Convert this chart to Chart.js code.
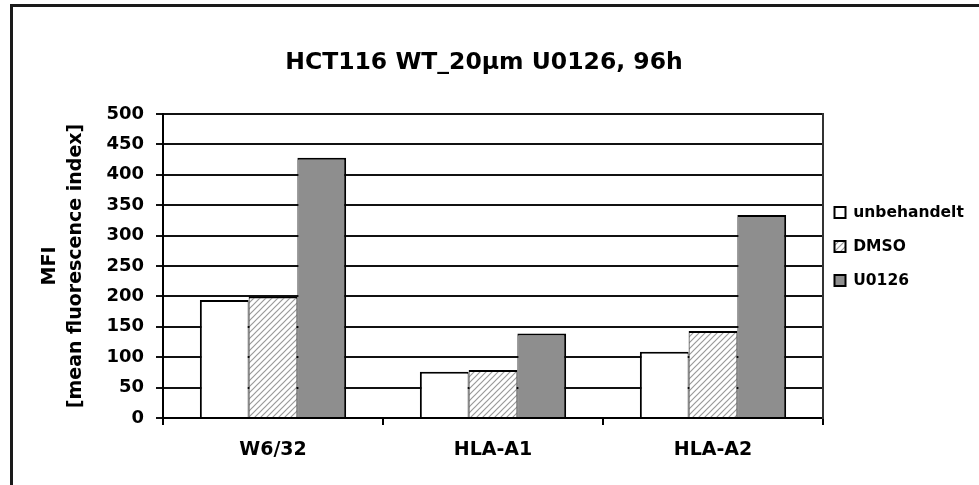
<!DOCTYPE html>
<html>
<head>
<meta charset="utf-8">
<script src="https://cdn.jsdelivr.net/npm/chart.js@4/dist/chart.umd.min.js"></script>
<style>
  html, body { margin: 0; padding: 0; background: #fff; overflow: hidden; }
  #wrap { position: relative; width: 979px; height: 485px; }
  #frame { position: absolute; left: 10px; top: 4px; width: 1200px; height: 800px;
           border-top: 3px solid #1a1a1a; border-left: 3px solid #1a1a1a; pointer-events: none; }
  canvas { position: absolute; left: 0; top: 0; }
</style>
</head>
<body>
<div id="wrap">
  <canvas id="c" width="979" height="485"></canvas>
  <div id="frame"></div>
</div>
<script>
// ---- data ----
const categories = ['W6/32', 'HLA-A1', 'HLA-A2'];
const seriesNames = ['unbehandelt', 'DMSO', 'U0126'];
const unbehandelt = [194, 76, 109];
const dmso = [200, 79, 143];
const u0126 = [428, 139, 334];
const yTickValues = [0, 50, 100, 150, 200, 250, 300, 350, 400, 450, 500];
const titleText = 'HCT116 WT_20\u00b5m U0126, 96h';
const yTitleLines = ['MFI', '[mean fluorescence index]'];

// ---- hatch pattern for DMSO ----
function makeHatch() {
  const s = 6;
  const pc = document.createElement('canvas');
  pc.width = s; pc.height = s;
  const g = pc.getContext('2d');
  g.fillStyle = '#ffffff';
  g.fillRect(0, 0, s, s);
  g.strokeStyle = '#9a9a9a';
  g.lineWidth = 1.2;
  g.beginPath();
  g.moveTo(-1, s + 1); g.lineTo(s + 1, -1);
  g.moveTo(-1, 1); g.lineTo(1, -1);
  g.moveTo(s - 1, s + 1); g.lineTo(s + 1, s - 1);
  g.stroke();
  return g.createPattern(pc, 'repeat');
}
const hatch = makeHatch();

Chart.defaults.font.family = "'DejaVu Sans', sans-serif";
Chart.defaults.color = '#000';

const legendShift = {
  id: 'legendShift',
  afterLayout(chart) {
    const l = chart.legend;
    if (l) {
      l.left -= 7;
      l.right = chart.width;
      l.width = l.right - l.left;
      l.top += 4;
      l.bottom += 4;
    }
  }
};

new Chart(document.getElementById('c'), {
  type: 'bar',
  data: {
    labels: categories,
    datasets: [
      { label: seriesNames[0], data: unbehandelt, backgroundColor: '#ffffff', borderColor: '#000',
        borderWidth: { left: 2, right: 1, top: 2, bottom: 0 }, borderSkipped: 'bottom' },
      { label: seriesNames[1], data: dmso, backgroundColor: hatch, borderColor: '#000',
        borderWidth: { left: 1, right: 1, top: 2, bottom: 0 }, borderSkipped: 'bottom' },
      { label: seriesNames[2], data: u0126, backgroundColor: '#8e8e8e', borderColor: '#000',
        borderWidth: { left: 1, right: 2, top: 2, bottom: 0 }, borderSkipped: 'bottom' }
    ]
  },
  options: {
    responsive: false,
    animation: false,
    devicePixelRatio: 1,
    layout: { padding: { left: 0, right: 11, top: 0, bottom: 0 } },
    datasets: { bar: { barPercentage: 1.0, categoryPercentage: 0.665 } },
    plugins: {
      tooltip: { enabled: false },
      title: {
        display: true,
        text: titleText,
        font: { size: 23.5, weight: 'bold', lineHeight: 1.2 },
        color: '#000',
        padding: { top: 49, bottom: 36.8 }
      },
      legend: {
        display: true,
        position: 'right',
        align: 'center',
        maxWidth: 145,
        labels: {
          boxWidth: 11,
          boxHeight: 11,
          padding: 18.5,
          color: '#000',
          font: { size: 15.5, weight: 'bold' },
          generateLabels(chart) {
            const items = Chart.defaults.plugins.legend.labels.generateLabels(chart);
            items.forEach(it => { it.lineWidth = 2; });
            return items;
          }
        }
      }
    },
    scales: {
      x: {
        afterFit(s) { s.height = 67; },
        grid: { offset: true, drawOnChartArea: false, drawTicks: true, tickLength: 7, color: '#000', lineWidth: 2 },
        border: { display: true, color: '#000', width: 2 },
        ticks: { color: '#000', padding: 14, font: { size: 19, weight: 'bold' } }
      },
      y: {
        min: 0, max: 500,
        afterFit(s) { s.width = 163; },
        afterBuildTicks(s) { s.ticks = yTickValues.map(v => ({ value: v })); },
        grid: { color: '#111', lineWidth: 2, tickLength: 7, drawTicks: true },
        border: { display: true, color: '#000', width: 2 },
        ticks: { color: '#000', padding: 12, font: { size: 18, weight: 'bold' } },
        title: {
          display: true,
          text: yTitleLines,
          color: '#000',
          font: { size: 19, weight: 'bold', lineHeight: 1.37 },
          padding: { top: 37, bottom: 0 }
        }
      },
      y2: {
        position: 'right',
        min: 0, max: 500,
        afterFit(s) { s.width = 0; },
        grid: { drawOnChartArea: false, drawTicks: false },
        border: { display: true, color: '#333', width: 2 },
        ticks: { display: false }
      }
    }
  },
  plugins: [legendShift]
});
</script>
</body>
</html>
